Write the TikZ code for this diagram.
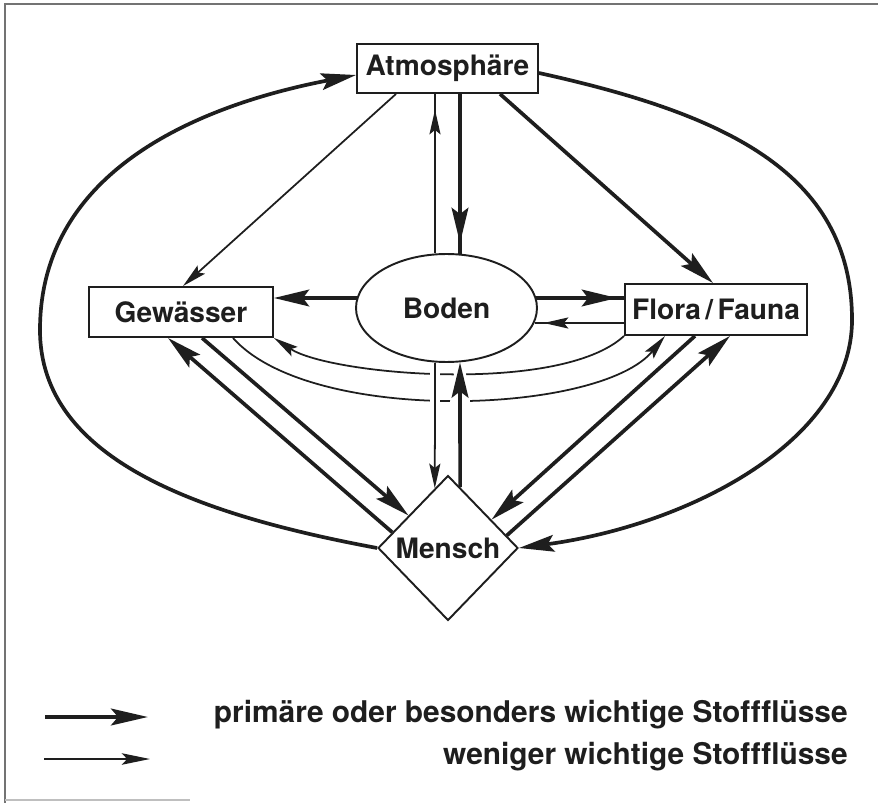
\documentclass[tikz,border=0pt]{standalone}
\usepackage{fontspec}
\setmainfont[Ligatures=NoCommon]{TeX Gyre Heros}
\usetikzlibrary{shapes.geometric, arrows.meta, calc, decorations.markings}
\definecolor{ink}{RGB}{30,30,30}
\begin{document}
\begin{tikzpicture}[x=0.02cm, y=-0.02cm,
  lbl/.style={font=\fontsize{16}{19}\selectfont\bfseries, text=ink},
  boxnode/.style={lbl, draw=ink, line width=1.1pt, rectangle, inner sep=0pt},
  thinl/.style={draw=ink, line width=1pt},
  thickl/.style={draw=ink, line width=2.1pt},
  tA/.style={-{Stealth[length=14pt,width=6.3pt,inset=2.5pt]}},
  TA/.style={-{Stealth[length=20pt,width=9.5pt,inset=3.5pt]}},
  tM/.style={postaction={decorate}, decoration={markings, mark=at position -#1 with {\arrow{Stealth[length=14pt,width=6.3pt,inset=2.5pt]}}}},
  TM/.style={postaction={decorate}, decoration={markings, mark=at position -#1 with {\arrow{Stealth[length=20pt,width=9.5pt,inset=3.5pt]}}}},
  legtext/.style={font=\fontsize{17}{20}\selectfont\bfseries, text=ink, anchor=east, inner sep=0pt}
]
\useasboundingbox (0,0) rectangle (878,803);
% frame
\draw[black!55, line width=0.9pt] (878,4) -- (5,4) -- (5,803);
\draw[black!25, line width=0.6pt] (5,800) -- (190,800);

% nodes
\node[boxnode, minimum width=3.62cm, minimum height=0.98cm] (Atm) at (447.5,68.5) {Atmosphäre};
\node[boxnode, minimum width=3.68cm, minimum height=1.0cm] (Gew) at (181,312) {Gewässer};
\node[boxnode, minimum width=3.64cm, minimum height=1.02cm] (Flo) at (716,309.5) {Flora\kern2.5pt/\kern2.5pt Fauna};
\node[lbl, draw=ink, line width=1.1pt, ellipse, inner sep=0pt, minimum width=3.62cm, minimum height=2.16cm] (Bod) at (446.5,308) {Boden};
\node[lbl, draw=ink, line width=1.1pt, diamond, inner sep=0pt, minimum width=2.8cm, minimum height=2.9cm] (Men) at (448,548) {Mensch};

% outer arcs
\draw[thickl, TA] (Men.west) .. controls (200,515) and (40,460) .. (40,330)
   .. controls (40,170) and (200,105) .. ($(Atm.west)+(0,6.5)$);
\draw[thickl, TA] ($(Atm.east)+(0,4.5)$) .. controls (720,113) and (852,170) .. (852,320)
   .. controls (852,440) and (690,525) .. (Men.east);

% Atmosphaere connections
\draw[thinl, tA] ($(Atm.south)+(-51.5,0)$) -- ($(Gew.north)+(2,0)$);
\draw[thickl, TA] ($(Atm.south)+(52.5,0)$) -- ($(Flo.north)+(-3,0)$);
\draw[thinl, tM=9pt] ($(Bod.north)+(-11.5,0)$) -- ($(Atm.south)+(-12.5,0)$);
\draw[thickl, TM=6pt] ($(Atm.south)+(12.5,0)$) -- ($(Bod.north)+(13.5,0.5)$);

% Boden horizontal
\draw[thickl, TA] ($(Bod.west)+(1.5,-10)$) -- ($(Gew.east)+(0,-14)$);
\draw[thickl, TM=4pt] ($(Bod.east)+(-1.5,-10)$) -- ($(Flo.west)+(0,-11.5)$);
\draw[thinl, tM=5pt] ($(Flo.west)+(0,13.5)$) -- ($(Bod.east)+(-3,15)$);

% curved arcs under Boden
\draw[thinl, tA] (Flo.south west) .. controls (560,395) and (330,375) .. (Gew.south east);
\draw[thinl, tA] ($(Gew.south)+(52,0)$) .. controls (310,425) and (600,415) .. ($(Flo.south)+(-51,0)$);

% white gaps where the vertical lines cross the arcs
\fill[white] ($(Bod.south)+(-16.5,4)$) rectangle ($(Bod.south)+(-6.5,46)$);
\fill[white] ($(Bod.south)+(8.5,4)$) -- ($(Bod.south)+(18.5,4)$) -- ($(Bod.south)+(24.5,46)$) -- ($(Bod.south)+(2.5,46)$) -- cycle;

% Boden <-> Mensch
\draw[thinl, tA] ($(Bod.south)+(-11.5,0)$) -- ($(Men.west)!0.814!(Men.north)$);
\draw[thickl, TA] ($(Men.north)!0.171!(Men.east)$) -- ($(Bod.south)+(13.5,-0.5)$);

% Gewaesser <-> Mensch
\draw[thickl, TA] ($(Men.west)!0.214!(Men.north)$) -- ($(Gew.south)+(-13,0)$);
\draw[thickl, TA] ($(Gew.south)+(21,0)$) -- ($(Men.west)!0.443!(Men.north)$);

% Flora/Fauna <-> Mensch
\draw[thickl, TA] ($(Flo.south)+(-21,0)$) -- ($(Men.north)!0.614!(Men.east)$);
\draw[thickl, TA] ($(Men.north)!0.829!(Men.east)$) -- ($(Flo.south)+(14,0)$);

% legend
\coordinate (lg1a) at (45,717);
\coordinate (lg1b) at (148,717);
\coordinate (lg2a) at (44,759);
\coordinate (lg2b) at (150,759);
\draw[ink, line width=2.6pt, -{Stealth[length=21pt,width=9.5pt,inset=4pt]}] (lg1a) -- (lg1b);
\draw[thinl, line width=1.2pt, -{Stealth[length=16pt,width=6.5pt,inset=3pt]}] (lg2a) -- (lg2b);
\node[legtext] (leg1) at (848,715) {primäre oder besonders wichtige Stoffflüsse};
\node[legtext] (leg2) at (848,757) {weniger wichtige Stoffflüsse};
\end{tikzpicture}
\end{document}
